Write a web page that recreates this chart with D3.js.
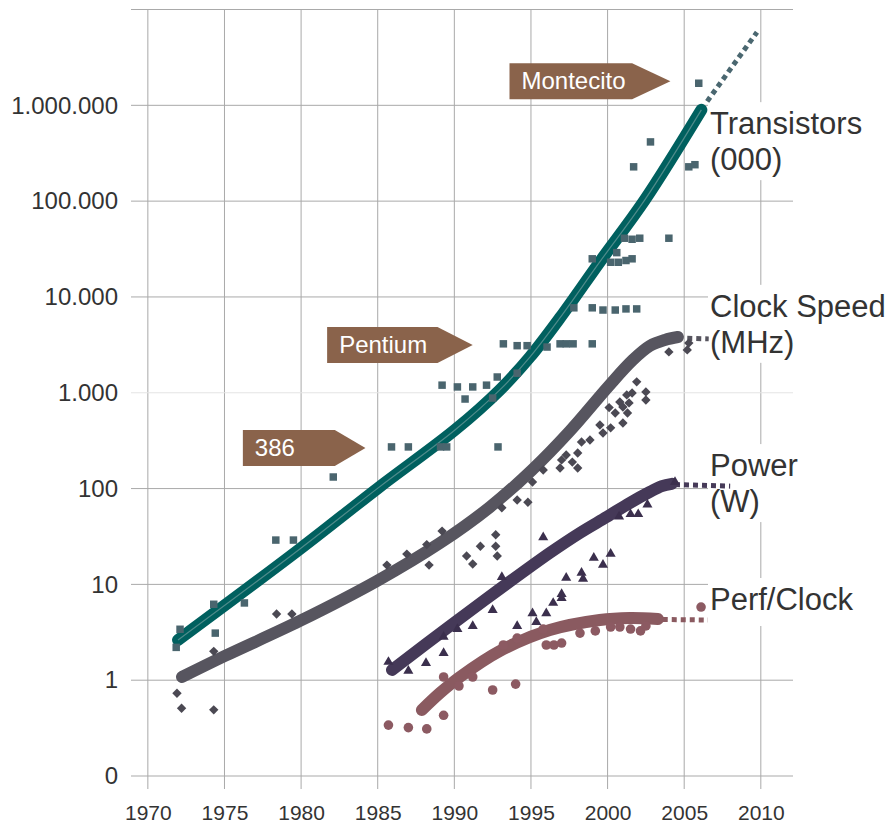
<!DOCTYPE html>
<html><head><meta charset="utf-8">
<script src="https://cdn.jsdelivr.net/npm/d3@7"></script>
<style>
body{margin:0;background:#fff}
svg{display:block}
text{font-family:"Liberation Sans",Arial,Helvetica,sans-serif}
</style>
</head><body>
<svg id="chart" width="891" height="823"></svg>
<script>
// ---------- data ----------
const yearTicks = [1970,1975,1980,1985,1990,1995,2000,2005,2010];
const valueTicks = [0.1,1,10,100,1000,10000,100000,1000000];
const valueTickLabels = ["0","1","10","100","1.000","10.000","100.000","1.000.000"];

// trend lines [year, value]
const transistorTrend = [[1971.97,2.63],[1979.92,23.4],[1985.01,101],[1990.04,409],[1992.97,1070],[1994.93,2360],[1996.89,6040],[1999.49,23200],[2002.43,103000],[2006.12,896000]];
const clockTrend = [[1972.23,1.08],[1975.03,1.79],[1979.92,4.15],[1984.95,10.85],[1989.06,27.0],[1992.33,64.3],[1995.06,156],[1997.54,399],[2000.08,1178],[2001.65,2200],[2002.76,3080],[2003.74,3560],[2004.59,3820]];
const powerTrend = [[1985.93,1.28],[1989.71,3.68],[1992.97,8.96],[1996.23,21.3],[1998.19,34.4],[1999.95,50.6],[2001.45,70.8],[2002.76,92.2],[2003.54,106],[2004.2,112]];
const perfTrend = [[1987.88,0.489],[1989.06,0.735],[1990.36,1.08],[1992.97,2.02],[1996.23,3.34],[1999.49,4.25],[2001.45,4.46],[2003.28,4.35]];

// dotted projections
const transistorProjection = [[2006.5,1.1e6],[2009.75,5.8e6]];
const clockProjection = [[2005.2,3700],[2006.6,3650]];
const powerProjection = [[2004.4,110],[2008.0,106]];
const perfProjection = [[2003.6,4.3],[2006.55,4.25]];

// scatter points
const transistorPoints = [[1971.85,2.2],[1972.1,3.4],[1974.3,6.2],[1974.4,3.1],[1976.3,6.4],[1978.35,29],[1979.5,29],[1982.1,132],[1985.9,272],[1987.0,272],[1989.1,272],[1989.5,272],[1992.85,272],[1989.2,1200],[1990.2,1150],[1991.2,1150],[1992.1,1200],[1990.7,860],[1992.5,880],[1992.8,1460],[1994.1,1600],[1993.2,3240],[1994.1,3100],[1994.75,3100],[1996.05,3000],[1996.9,3240],[1997.3,3240],[1997.75,3240],[1999.0,3240],[1997.8,7700],[1999.0,7700],[1999.7,7300],[2000.5,7300],[2001.2,7500],[2001.9,7500],[1999.0,25000],[2000.2,23000],[2000.6,29000],[2000.7,23000],[2001.2,24000],[2001.6,25000],[2001.1,41000],[2001.6,40000],[2002.1,41000],[2004.0,41000],[2001.7,228000],[2002.8,415000],[2005.3,228000],[2005.7,240000],[2005.95,1.7e6]];
const clockPoints = [[1971.9,0.73],[1972.2,0.51],[1974.3,2.0],[1974.3,0.49],[1978.4,4.9],[1979.4,4.9],[1985.6,15.9],[1986.9,20.7],[1988.35,15.9],[1990.8,19.8],[1991.2,16.3],[1992.8,19.8],[1988.2,26],[1989.2,36],[1991.7,25],[1992.7,33],[1992.7,25],[1994.1,76],[1994.8,72],[1993.1,63],[1995.1,117],[1995.8,156],[1997.0,199],[1997.7,189],[1998.05,164],[1997.3,224],[1998.05,235],[1996.9,164],[1998.3,306],[1998.85,321],[1999.7,380],[2000.2,430],[1999.5,460],[2001.0,484],[2000.5,615],[2001.3,615],[2001.0,710],[2001.4,783],[2001.25,950],[2001.6,995],[2001.9,1300],[2002.5,1020],[2002.5,840],[2000.8,800],[2000.1,700],[2004.0,2670],[2005.2,2800],[2005.3,3300]];
const powerPoints = [[1985.7,1.55],[1987.0,1.25],[1988.15,1.51],[1989.3,1.92],[1989.3,2.83],[1990.2,3.42],[1991.2,3.68],[1992.5,5.4],[1993.1,11.9],[1994.1,3.68],[1995.1,5.0],[1995.35,4.05],[1996.0,5.0],[1996.45,6.4],[1997.0,7.2],[1997.0,7.9],[1997.3,11.7],[1998.3,13.2],[1998.4,11.4],[1999.1,18.9],[1999.7,16],[2000.2,20.8],[1995.8,31],[2000.75,51],[2001.5,54],[2002.0,54],[2002.6,68],[2004.4,117]];
const perfPoints = [[1985.7,0.34],[1987.0,0.32],[1988.2,0.31],[1989.3,0.43],[1989.3,1.08],[1990.3,0.87],[1991.2,1.08],[1992.5,0.79],[1994.0,0.91],[1993.2,2.33],[1994.1,2.75],[1995.8,3.42],[1996.0,2.33],[1996.5,2.33],[1997.0,2.44],[1998.2,3.1],[1999.2,3.27],[2000.2,3.59],[2000.8,3.59],[2001.5,3.42],[2002.15,3.27],[2002.5,3.68],[2006.1,5.8]];

// series labels (value = first-line baseline)
const seriesLabels = [
  {lines:["Transistors","(000)"], value:5e5},
  {lines:["Clock Speed","(MHz)"], value:6200},
  {lines:["Power","(W)"], value:135},
  {lines:["Perf/Clock"], value:5.4}
];
// annotation tags: start year, end-of-body year, tip year, value at centre
const tags = [
  {label:"386", start:1976.2, body:1982.2, tip:1984.2, value:265},
  {label:"Pentium", start:1981.7, body:1988.9, tip:1991.2, value:3150},
  {label:"Montecito", start:1993.6, body:2001.6, tip:2004.1, value:1.78e6}
];

// ---------- scales ----------
const svg = d3.select("#chart");
const x = d3.scaleLinear().domain([1968.9, 2012.1]).range([131, 793]);
const y = d3.scaleLog().domain([0.1, 1e7]).range([776, 9.5]);

// gridlines
const grid = svg.append("g");
grid.selectAll("line.v").data(yearTicks).join("line")
  .attr("x1", d => x(d)).attr("x2", d => x(d))
  .attr("y1", y(1e7)).attr("y2", 789)
  .attr("stroke", "#a9a9a9").attr("stroke-width", 1);
grid.selectAll("line.h").data(valueTicks.concat([1e7])).join("line")
  .attr("x1", 131).attr("x2", 793)
  .attr("y1", d => y(d)).attr("y2", d => y(d))
  .attr("stroke", d => d === 1000 ? "#e4e4e4" : "#a9a9a9").attr("stroke-width", 1);

// axes (labels only)
const yAxis = d3.axisLeft(y).tickValues(valueTicks)
  .tickFormat((d,i) => valueTickLabels[i]).tickSize(0).tickPadding(13);
const gy = svg.append("g").attr("transform", "translate(131,0)").call(yAxis);
gy.select(".domain").remove();
gy.selectAll("text").attr("font-size", 24).attr("fill", "#333")
  .attr("font-family", '"Liberation Sans",Arial,sans-serif');

const xAxis = d3.axisBottom(x).tickValues(yearTicks).tickFormat(d3.format("d")).tickSize(0).tickPadding(16);
const gx = svg.append("g").attr("transform", "translate(0,789)").call(xAxis);
gx.select(".domain").remove();
gx.selectAll("text").attr("font-size", 21).attr("fill", "#333")
  .attr("font-family", '"Liberation Sans",Arial,sans-serif');

// label backgrounds + labels
const lab = svg.append("g");
seriesLabels.forEach(s => {
  const baseY = y(s.value);
  const n = s.lines.length;
  lab.append("rect").attr("x", 708).attr("y", baseY - 32).attr("width", 183)
    .attr("height", n === 1 ? 48 : 78).attr("fill", "#fff");
  s.lines.forEach((t, i) => {
    lab.append("text").attr("x", 710).attr("y", baseY + i * 36)
      .attr("font-size", 31).attr("fill", "#333").text(t);
  });
});

// tags
const tg = svg.append("g");
tags.forEach(t => {
  const cy = y(t.value), x0 = x(t.start), x1 = x(t.body), xp = x(t.tip);
  tg.append("path")
    .attr("d", `M${x0},${cy-18}L${x1},${cy-18}L${xp},${cy}L${x1},${cy+18}L${x0},${cy+18}Z`)
    .attr("fill", "#8a634b");
  tg.append("text").attr("x", x0 + 12).attr("y", cy + 8)
    .attr("font-size", 24).attr("fill", "#fff").text(t.label);
});

// lines
const line = d3.line().x(d => x(d[0])).y(d => y(d[1])).curve(d3.curveCatmullRom.alpha(0.5));
const straight = d3.line().x(d => x(d[0])).y(d => y(d[1]));
const lg = svg.append("g").attr("fill", "none");

lg.append("path").attr("d", straight(transistorProjection)).attr("stroke", "#4a6770").attr("stroke-width", 5).attr("stroke-dasharray", "5,4");
lg.append("path").attr("d", straight(clockProjection)).attr("stroke", "#56545e").attr("stroke-width", 5).attr("stroke-dasharray", "5,4");
lg.append("path").attr("d", straight(powerProjection)).attr("stroke", "#463a58").attr("stroke-width", 5).attr("stroke-dasharray", "5,4");
lg.append("path").attr("d", straight(perfProjection)).attr("stroke", "#8a5a60").attr("stroke-width", 5).attr("stroke-dasharray", "5,4");

lg.append("path").attr("d", line(clockTrend)).attr("stroke", "#57555f").attr("stroke-width", 12).attr("stroke-linecap", "round");
lg.append("path").attr("d", line(powerTrend)).attr("stroke", "#453958").attr("stroke-width", 12).attr("stroke-linecap", "round");
lg.append("path").attr("d", line(perfTrend)).attr("stroke", "#8a5a60").attr("stroke-width", 12).attr("stroke-linecap", "round");
lg.append("path").attr("d", line(transistorTrend)).attr("stroke", "#00605f").attr("stroke-width", 12).attr("stroke-linecap", "round");
lg.append("path").attr("d", line(transistorTrend)).attr("stroke", "#4f8b8b").attr("stroke-width", 1.2);

// scatter points
const pg = svg.append("g");
pg.selectAll("path.sq").data(transistorPoints).join("path")
  .attr("d", d3.symbol().type(d3.symbolSquare).size(56))
  .attr("transform", d => `translate(${x(d[0])},${y(d[1])})`).attr("fill", "#4a656e");
pg.selectAll("path.dm").data(clockPoints).join("path")
  .attr("d", d3.symbol().type(d3.symbolSquare).size(44))
  .attr("transform", d => `translate(${x(d[0])},${y(d[1])}) rotate(45)`).attr("fill", "#4b4953");
pg.selectAll("path.tr").data(powerPoints).join("path")
  .attr("d", d3.symbol().type(d3.symbolTriangle).size(44))
  .attr("transform", d => `translate(${x(d[0])},${y(d[1])})`).attr("fill", "#3b2f4d");
pg.selectAll("circle").data(perfPoints).join("circle")
  .attr("cx", d => x(d[0])).attr("cy", d => y(d[1])).attr("r", 4.8).attr("fill", "#8c5a62");
</script>
</body></html>
